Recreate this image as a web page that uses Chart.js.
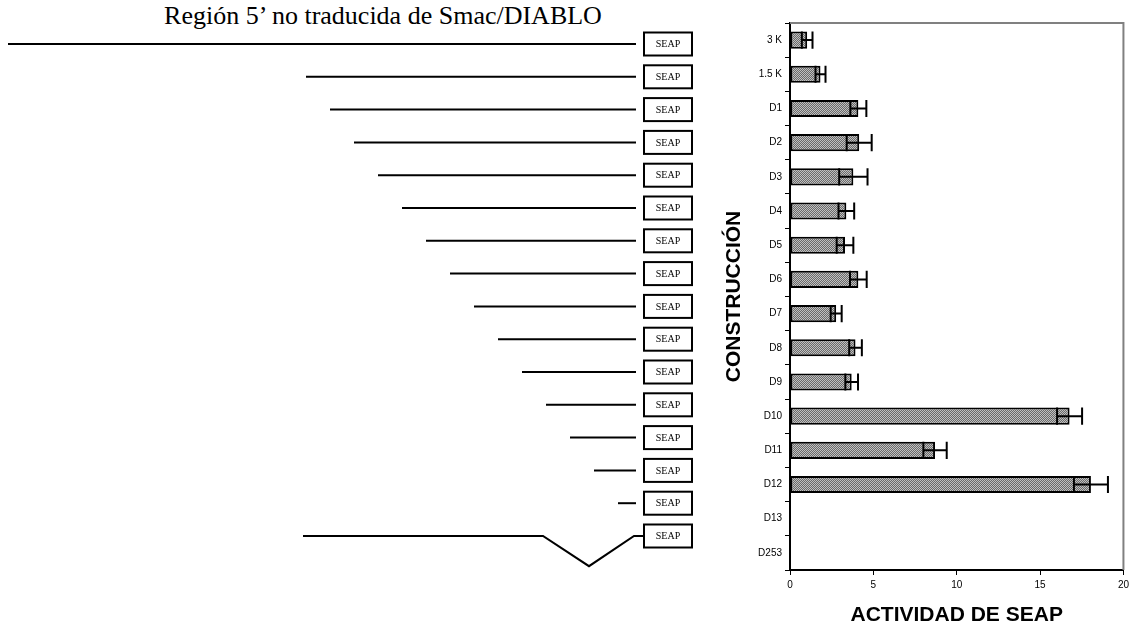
<!DOCTYPE html>
<html><head><meta charset="utf-8">
<script src="https://cdn.jsdelivr.net/npm/chart.js@4.4.1/dist/chart.umd.min.js"></script>
<style>
html,body{margin:0;padding:0;background:#fff;width:1133px;height:628px;overflow:hidden;}
#left{position:absolute;left:0;top:0;width:700px;height:628px;}
#right{position:absolute;left:700px;top:0;width:433px;height:628px;}
#title{position:absolute;left:83px;width:600px;top:2px;text-align:center;font-family:"Liberation Serif","Times New Roman",serif;font-size:25px;color:#000;white-space:nowrap;transform:scaleX(1.04);transform-origin:50% 50%;}
</style></head><body>
<div id="title">Región 5’ no traducida de Smac/DIABLO</div>
<div id="left"><canvas id="c1"></canvas></div>
<div id="right"><canvas id="c2"></canvas></div>
<script>
// ---- data ----
const categories = ['3 K','1.5 K','D1','D2','D3','D4','D5','D6','D7','D8','D9','D10','D11','D12','D13','D253'];
const activity = [1.03,1.83,4.10,4.15,3.80,3.38,3.30,4.10,2.77,3.93,3.70,16.77,8.70,18.05,0,0];
const activityError = [0.32,0.30,0.48,0.75,0.85,0.47,0.50,0.50,0.33,0.38,0.38,0.75,0.70,1.02,null,null];
const xTicks = [0,5,10,15,20];
// schematic of the 5' UTR constructs (start position of each fragment, schematic units)
const constructStart = [8,306,330,354,378,402,426,450,474,498,522,546,570,594,618];
const constructEnd = 636;
const deletionX = [303,543,589,634,644];
const deletionDip = [0,0,0.92,0,0];
const boxLeft = 644, boxRight = 692;

Chart.defaults.devicePixelRatio = 1;
Chart.defaults.animation = false;

// ---- left schematic ----
const rows = categories.map((c,i)=>i);
const lineSets = constructStart.map((s,i)=>({
  data:[{x:s,y:i},{x:constructEnd,y:i}],
  borderColor:'#000',borderWidth:2,pointRadius:0,showLine:true,clip:false
}));
lineSets.push({
  data:deletionX.map((x,k)=>({x:x,y:15+deletionDip[k]})),
  borderColor:'#000',borderWidth:2,pointRadius:0,showLine:true,clip:false
});
const seapBoxes = {id:'seapBoxes',afterDatasetsDraw(chart){
  const ctx=chart.ctx, xs=chart.scales.x, ys=chart.scales.y;
  ctx.save();
  rows.forEach(i=>{
    const x0=xs.getPixelForValue(boxLeft), x1=xs.getPixelForValue(boxRight), y=ys.getPixelForValue(i);
    ctx.fillStyle='#fff';ctx.fillRect(x0,y-11.5,x1-x0,23);
    ctx.strokeStyle='#000';ctx.lineWidth=2;ctx.strokeRect(x0,y-11.5,x1-x0,23);
    ctx.fillStyle='#000';ctx.font='10px "Liberation Serif","Times New Roman",serif';
    ctx.textAlign='center';ctx.textBaseline='middle';
    ctx.fillText('SEAP',(x0+x1)/2,y+0.5);
  });
  ctx.restore();
}};
new Chart(document.getElementById('c1'),{
  type:'scatter',
  data:{datasets:lineSets},
  options:{responsive:true,maintainAspectRatio:false,
    layout:{padding:{top:44,bottom:92,left:0,right:0}},
    plugins:{legend:{display:false},tooltip:{enabled:false}},
    scales:{x:{type:'linear',min:0,max:700,display:false},
            y:{type:'linear',min:0,max:15,reverse:true,display:false}}},
  plugins:[seapBoxes]
});

// ---- right bar chart ----
function makePattern(){
  const c=document.createElement('canvas');c.width=2;c.height=2;
  const g=c.getContext('2d');
  g.fillStyle='#6a6a6a';g.fillRect(0,0,2,2);
  g.fillStyle='#c0c0c0';g.fillRect(0,0,1,1);g.fillRect(1,1,1,1);
  return g.createPattern(c,'repeat');
}
const errorBars = {id:'errorBars',afterDatasetsDraw(chart){
  const meta=chart.getDatasetMeta(0), xs=chart.scales.x, ctx=chart.ctx;
  ctx.save();ctx.strokeStyle='#000';ctx.lineWidth=2;
  meta.data.forEach((el,i)=>{
    const e=activityError[i]; if(e==null) return;
    const v=activity[i];
    const lo=xs.getPixelForValue(v-e), hi=xs.getPixelForValue(v+e);
    const y=el.y, h=el.height/2;
    ctx.beginPath();
    ctx.moveTo(lo,y);ctx.lineTo(hi,y);
    ctx.moveTo(lo,y-h);ctx.lineTo(lo,y+h);
    ctx.moveTo(hi,y-h);ctx.lineTo(hi,y+h);
    ctx.stroke();
  });
  ctx.restore();
}};
const plotFrame = {id:'plotFrame',beforeDatasetsDraw(chart){
  const a=chart.chartArea, ctx=chart.ctx;
  ctx.save();ctx.strokeStyle='#808080';ctx.lineWidth=2;
  ctx.beginPath();ctx.moveTo(a.left,a.top);ctx.lineTo(a.right,a.top);ctx.lineTo(a.right,a.bottom);ctx.stroke();
  ctx.restore();
}};
new Chart(document.getElementById('c2'),{
  type:'bar',
  data:{labels:categories,datasets:[{data:activity,backgroundColor:makePattern(),borderColor:'#000',borderWidth:2,borderSkipped:false,
    barPercentage:0.5,categoryPercentage:1}]},
  options:{indexAxis:'y',responsive:true,maintainAspectRatio:false,
    layout:{padding:{top:23,right:8,left:0,bottom:0}},
    plugins:{legend:{display:false},tooltip:{enabled:false}},
    scales:{
      y:{type:'category',
        grid:{drawOnChartArea:false,drawTicks:true,tickLength:5,color:'#000',lineWidth:1},
        border:{color:'#000',width:2},
        ticks:{font:{family:'"Liberation Sans",Arial,sans-serif',size:10},color:'#000',padding:3},
        title:{display:true,text:'CONSTRUCCIÓN',color:'#000',font:{family:'"Liberation Sans",Arial,sans-serif',size:21,weight:'bold'},padding:{top:22,bottom:0}},
        afterFit(s){s.width=90;}
      },
      x:{type:'linear',min:0,max:20,
        afterBuildTicks(s){s.ticks=xTicks.map(v=>({value:v}));},
        grid:{drawOnChartArea:false,drawTicks:true,tickLength:5,color:'#000',lineWidth:1},
        border:{color:'#000',width:2},
        ticks:{font:{family:'"Liberation Sans",Arial,sans-serif',size:10},color:'#000',padding:4,maxRotation:0},
        title:{display:true,text:'ACTIVIDAD DE SEAP',color:'#000',font:{family:'"Liberation Sans",Arial,sans-serif',size:21,weight:'bold'},padding:{top:0,bottom:0}},
        afterFit(s){s.height=58;}
      }
    }},
  plugins:[plotFrame,errorBars]
});
</script>
</body></html>
